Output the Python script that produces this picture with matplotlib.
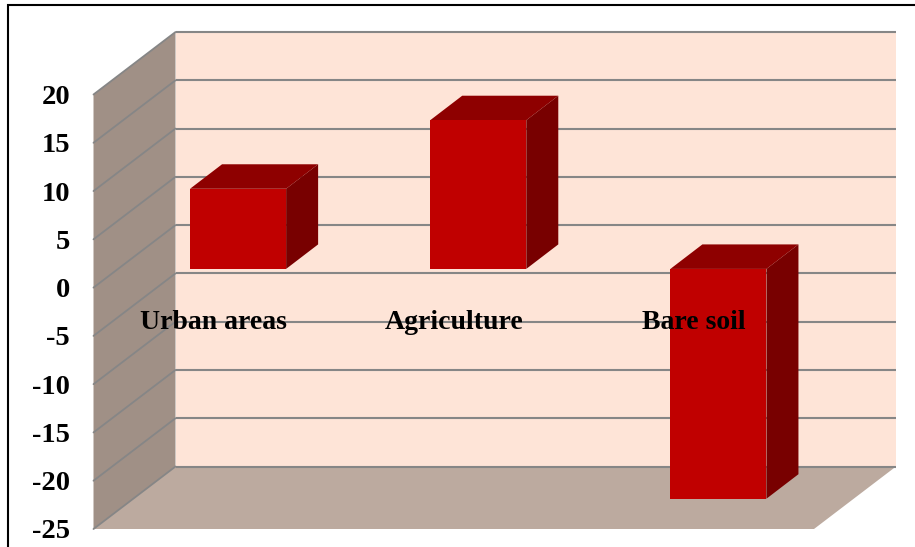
import matplotlib
matplotlib.use("Agg")
import matplotlib.pyplot as plt
from matplotlib.patches import Polygon, Rectangle
from matplotlib.transforms import Affine2D

categories = ["Urban areas", "Agriculture", "Bare soil"]
values = [8.3, 15.4, -23.8]
ticks = [20, 15, 10, 5, 0, -5, -10, -15, -20, -25]

W, H = 915, 547
plt.rcParams["font.family"] = ["Liberation Serif", "DejaVu Serif"]
fig = plt.figure(figsize=(W / 100, H / 100), dpi=100, facecolor="white")

# Front plane of the 3-D box, in pixels
L, R, T, B = 93.5, 814.0, 94.5, 529.0
ax = fig.add_axes([L / W, 1 - B / H, (R - L) / W, (B - T) / H])
ax.set_xlim(0, 3)
ax.set_ylim(-25, 20)
ax.patch.set_visible(False)
for s in ax.spines.values():
    s.set_visible(False)

DX, DY = 82.0, 62.5           # full box depth
BX0, BY0 = 24.5, 18.7         # bar front-face depth
BX1, BY1 = 32.0, 24.5         # bar extrusion
width = 0.4


def shift(dx, dy):
    return ax.transData + Affine2D().translate(dx, dy)


back = shift(DX, DY)
# Back wall
ax.add_patch(Rectangle((0, -25), 3, 45, transform=back, fc="#FEE4D7", ec="none", zorder=1, clip_on=False))


def sheared(pts, **kw):
    """Polygon given as (x, value, depth) with depth 0=front, 1=back."""
    disp = [ax.transData.transform((x, v)) + [d * DX, d * DY] for x, v, d in pts]
    p = Polygon(disp, closed=True, transform=None, clip_on=False, **kw)
    ax.add_patch(p)
    p.set_transform(Affine2D())
    return p


fig.canvas.draw()
# Side wall and floor
sheared([(0, -25, 0), (0, 20, 0), (0, 20, 1), (0, -25, 1)], fc="#A09086", ec="none", zorder=2)
sheared([(0, -25, 0), (3, -25, 0), (3, -25, 1), (0, -25, 1)], fc="#BCAA9F", ec="none", zorder=2)

# Gridlines on back wall and side wall
grid = "#868686"
for t in ticks:
    ax.plot([0, 3], [t, t], transform=back, color=grid, lw=1.5, zorder=3, clip_on=False,
            solid_capstyle="butt")
    a = ax.transData.transform((0, t))
    ax.plot([a[0], a[0] + DX], [a[1], a[1] + DY], transform=Affine2D(), color=grid, lw=1.3,
            zorder=3, clip_on=False, solid_capstyle="round")

# Bars
for i, v in enumerate(values):
    x0, x1 = i + 0.5 - width / 2, i + 0.5 + width / 2
    top = max(v, 0)
    low = min(v, 0)
    ax.add_patch(Rectangle((x0, low), width, top - low, transform=shift(BX0, BY0),
                           fc="#C00000", ec="none", zorder=6, clip_on=False))
    p0 = ax.transData.transform((x0, top)) + [BX0, BY0]
    p1 = ax.transData.transform((x1, top)) + [BX0, BY0]
    p2 = ax.transData.transform((x1, low)) + [BX0, BY0]
    ax.add_patch(Polygon([p0, p1, p1 + [BX1, BY1], p0 + [BX1, BY1]], transform=Affine2D(),
                         fc="#8E0000", ec="none", zorder=5, clip_on=False))
    ax.add_patch(Polygon([p1, p2, p2 + [BX1, BY1], p1 + [BX1, BY1]], transform=Affine2D(),
                         fc="#780000", ec="none", zorder=5, clip_on=False))

# Axis labels
ax.set_xticks([])
ax.set_yticks(ticks)
ax.set_yticklabels([str(t) for t in ticks], fontsize=20.5, fontweight="bold", color="black")
ax.tick_params(axis="y", length=0, pad=17)

for i, c in enumerate(categories):
    ax.text(i + 0.5, -3.6, c, ha="center", va="center", fontsize=20, fontweight="bold",
            color="black", zorder=8, clip_on=False)

# Outer frame (left and top only reach the image edges)
fig.add_artist(plt.Line2D([8 / W, 8 / W, 1], [0, 1 - 5 / H, 1 - 5 / H], color="black", lw=1.5,
                          solid_joinstyle="miter"))

fig.savefig("out.png", dpi=100, facecolor="white")
